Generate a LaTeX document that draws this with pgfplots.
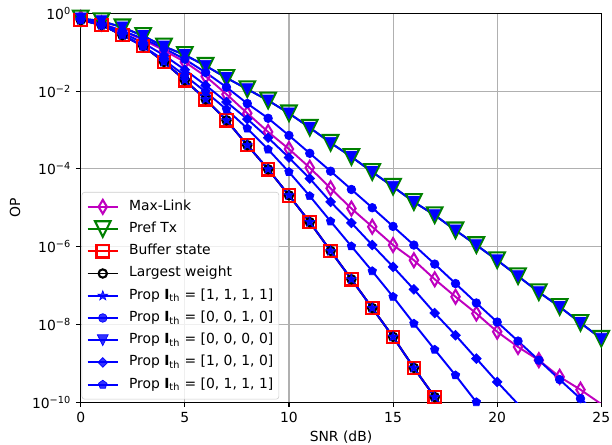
\documentclass[border=0pt]{standalone}
\usepackage{fontspec}
\setmainfont{DejaVu Sans}
\usepackage{pgfplots}
\pgfplotsset{compat=1.18}
\definecolor{mlmag}{RGB}{191,0,191}
\definecolor{mlgreen}{RGB}{0,128,0}
\definecolor{gridgray}{RGB}{176,176,176}
\definecolor{legedge}{RGB}{204,204,204}
% open down triangle (matplotlib 'v')
\pgfdeclareplotmark{tdown}{%
  \pgfpathmoveto{\pgfqpoint{-\pgfplotmarksize}{\pgfplotmarksize}}%
  \pgfpathlineto{\pgfqpoint{\pgfplotmarksize}{\pgfplotmarksize}}%
  \pgfpathlineto{\pgfqpoint{0pt}{-\pgfplotmarksize}}%
  \pgfpathclose\pgfusepathqstroke}
\pgfdeclareplotmark{tdown*}{%
  \pgfpathmoveto{\pgfqpoint{-\pgfplotmarksize}{\pgfplotmarksize}}%
  \pgfpathlineto{\pgfqpoint{\pgfplotmarksize}{\pgfplotmarksize}}%
  \pgfpathlineto{\pgfqpoint{0pt}{-\pgfplotmarksize}}%
  \pgfpathclose\pgfusepathqfillstroke}
% thin diamond (matplotlib 'd')
\pgfdeclareplotmark{tdia}{%
  \pgfpathmoveto{\pgfqpoint{0pt}{\pgfplotmarksize}}%
  \pgfpathlineto{\pgfqpoint{.6\pgfplotmarksize}{0pt}}%
  \pgfpathlineto{\pgfqpoint{0pt}{-\pgfplotmarksize}}%
  \pgfpathlineto{\pgfqpoint{-.6\pgfplotmarksize}{0pt}}%
  \pgfpathclose\pgfusepathqstroke}
% square diamond (matplotlib 'D')
\pgfdeclareplotmark{sdia*}{%
  \pgfpathmoveto{\pgfqpoint{0pt}{\pgfplotmarksize}}%
  \pgfpathlineto{\pgfqpoint{\pgfplotmarksize}{0pt}}%
  \pgfpathlineto{\pgfqpoint{0pt}{-\pgfplotmarksize}}%
  \pgfpathlineto{\pgfqpoint{-\pgfplotmarksize}{0pt}}%
  \pgfpathclose\pgfusepathqfillstroke}
% filled 5-pointed star (matplotlib '*')
\pgfdeclareplotmark{fstar}{%
  \pgfpathmoveto{\pgfqpointpolar{90}{\pgfplotmarksize}}%
  \pgfpathlineto{\pgfqpointpolar{126}{.4\pgfplotmarksize}}%
  \pgfpathlineto{\pgfqpointpolar{162}{\pgfplotmarksize}}%
  \pgfpathlineto{\pgfqpointpolar{198}{.4\pgfplotmarksize}}%
  \pgfpathlineto{\pgfqpointpolar{234}{\pgfplotmarksize}}%
  \pgfpathlineto{\pgfqpointpolar{270}{.4\pgfplotmarksize}}%
  \pgfpathlineto{\pgfqpointpolar{306}{\pgfplotmarksize}}%
  \pgfpathlineto{\pgfqpointpolar{342}{.4\pgfplotmarksize}}%
  \pgfpathlineto{\pgfqpointpolar{18}{\pgfplotmarksize}}%
  \pgfpathlineto{\pgfqpointpolar{54}{.4\pgfplotmarksize}}%
  \pgfpathclose\pgfusepathqfillstroke}
\begin{document}
\begin{tikzpicture}
\begin{axis}[
  scale only axis, width=374.8pt, height=279.9pt,
  xmin=0, xmax=25, ymin=1e-10, ymax=1, ymode=log,
  xtick={0,5,10,15,20,25}, xticklabels={0,5,10,15,20,25},
  ytick={1e-10,1e-8,1e-6,1e-4,1e-2,1},
  yticklabels={10\textsuperscript{−10},10\textsuperscript{−8},10\textsuperscript{−6},10\textsuperscript{−4},10\textsuperscript{−2},10\textsuperscript{0}},
  yminorticks=false,
  grid=major, major grid style={gridgray, line width=0.8pt},
  tick align=outside, tick pos=left, major tick length=3.5pt,
  tick style={black, line width=0.8pt},
  axis line style={line width=0.8pt},
  xlabel={SNR (dB)}, ylabel={OP},
  x label style={at={(axis description cs:0.5,-0.09)}, anchor=center},
  y label style={at={(axis description cs:-0.126,0.5)}, anchor=center},
  legend cell align=left,
  legend image code/.code={%
    \begin{pgfinterruptboundingbox}%
    \draw[mark repeat=2,mark phase=2] plot coordinates {(0pt,0pt) (11pt,0pt) (22pt,0pt)};%
    \end{pgfinterruptboundingbox}%
    \path[draw=none,fill=none] (0pt,-5pt) rectangle (22pt,5pt);},
  legend style={at={(axis description cs:0,0)}, anchor=south west,
    xshift=0.7pt, yshift=1.9pt, draw=legedge, fill=white, fill opacity=0.8,
    text opacity=1, rounded corners=2pt, inner xsep=4pt, inner ysep=5.5pt,
    row sep=6pt, nodes={inner sep=0pt, text height=7.5pt, text depth=2.5pt},
    /tikz/every odd column/.append style={column sep=7.9pt}},
]
\coordinate (ll) at (rel axis cs:0,0);
\coordinate (ur) at (rel axis cs:1,1);

% Max-Link
\addplot[mlmag, line width=1.4pt, mark=tdia, mark size=5pt, mark options={solid, line width=1.5pt}] coordinates {
(0,0.759)(1,0.550)(2,0.355)(3,0.209)(4,0.112)(5,5.62e-2)(6,2.40e-2)(7,8.32e-3)(8,2.69e-3)(9,8.91e-4)(10,3.24e-4)(11,1.07e-4)(12,3.16e-5)(13,9.55e-6)(14,3.24e-6)(15,1.096e-6)(16,4.47e-7)(17,1.445e-7)(18,5.13e-8)(19,1.905e-8)(20,6.46e-9)(21,2.63e-9)(22,1.20e-9)(23,4.47e-10)(24,2.09e-10)(25,8.9e-11)};
\addlegendentry{Max-Link}

% Pref Tx
\addplot[mlgreen, line width=1.4pt, mark=tdown, mark size=5.6pt, mark options={solid, line width=1.5pt}] coordinates {
(0,0.741)(1,0.631)(2,0.437)(3,0.263)(4,0.141)(5,8.51e-2)(6,4.47e-2)(7,2.19e-2)(8,1.122e-2)(9,5.75e-3)(10,2.69e-3)(11,1.148e-3)(12,4.68e-4)(13,2.04e-4)(14,8.32e-5)(15,3.47e-5)(16,1.41e-5)(17,6.46e-6)(18,2.63e-6)(19,1.096e-6)(20,4.47e-7)(21,1.74e-7)(22,6.76e-8)(23,2.82e-8)(24,1.096e-8)(25,4.27e-9)};
\addlegendentry{Pref Tx}

% Buffer state
\addplot[red, line width=1.4pt, mark=square, mark size=4.5pt, mark options={solid, line width=1.5pt}] coordinates {
(0,0.676)(1,0.501)(2,0.275)(3,0.1445)(4,5.62e-2)(5,1.905e-2)(6,6.17e-3)(7,1.778e-3)(8,4.07e-4)(9,9.77e-5)(10,2.09e-5)(11,4.27e-6)(12,7.76e-7)(13,1.445e-7)(14,2.63e-8)(15,4.79e-9)(16,7.59e-10)(17,1.35e-10)(18,2.5e-11)};
\addlegendentry{Buffer state}

% Largest weight
\addplot[black, line width=1.4pt, mark=o, mark size=3pt, mark options={solid, line width=1.5pt}] coordinates {
(0,0.676)(1,0.501)(2,0.275)(3,0.1445)(4,5.62e-2)(5,1.905e-2)(6,6.17e-3)(7,1.778e-3)(8,4.07e-4)(9,9.77e-5)(10,2.09e-5)(11,4.27e-6)(12,7.76e-7)(13,1.445e-7)(14,2.63e-8)(15,4.79e-9)(16,7.59e-10)(17,1.35e-10)(18,2.5e-11)};
\addlegendentry{Largest weight}

% Prop [1,1,1,1]
\addplot[blue, line width=1.4pt, mark=fstar, mark size=3.6pt, mark options={solid, fill=blue, line width=0.5pt}] coordinates {
(0,0.676)(1,0.501)(2,0.275)(3,0.1445)(4,5.62e-2)(5,1.905e-2)(6,6.17e-3)(7,1.778e-3)(8,4.07e-4)(9,9.77e-5)(10,2.09e-5)(11,4.27e-6)(12,7.76e-7)(13,1.445e-7)(14,2.63e-8)(15,4.79e-9)(16,7.59e-10)(17,1.35e-10)(18,2.5e-11)};
\addlegendentry{Prop \textbf{I}\textsubscript{th} = [1, 1, 1, 1]}

% Prop [0,0,1,0]
\addplot[blue, line width=1.4pt, mark=*, mark size=3.1pt, mark options={solid, fill=blue, line width=0.5pt}] coordinates {
(0,0.708)(1,0.525)(2,0.355)(3,0.224)(4,0.126)(5,6.61e-2)(6,3.02e-2)(7,1.259e-2)(8,4.79e-3)(9,2.00e-3)(10,7.24e-4)(11,2.51e-4)(12,8.71e-5)(13,2.95e-5)(14,1.0e-5)(15,3.31e-6)(16,1.096e-6)(17,3.55e-7)(18,1.122e-7)(19,3.55e-8)(20,1.148e-8)(21,3.72e-9)(22,1.20e-9)(23,3.80e-10)(24,1.23e-10)(25,4.0e-11)};
\addlegendentry{Prop \textbf{I}\textsubscript{th} = [0, 0, 1, 0]}

% Prop [0,0,0,0]
\addplot[blue, line width=1.4pt, mark=tdown*, mark size=3.9pt, mark options={solid, fill=blue, line width=0.5pt}] coordinates {
(0,0.741)(1,0.631)(2,0.437)(3,0.263)(4,0.141)(5,8.51e-2)(6,4.47e-2)(7,2.19e-2)(8,1.122e-2)(9,5.75e-3)(10,2.69e-3)(11,1.148e-3)(12,4.68e-4)(13,2.04e-4)(14,8.32e-5)(15,3.47e-5)(16,1.41e-5)(17,6.46e-6)(18,2.63e-6)(19,1.096e-6)(20,4.47e-7)(21,1.74e-7)(22,6.76e-8)(23,2.82e-8)(24,1.096e-8)(25,4.27e-9)};
\addlegendentry{Prop \textbf{I}\textsubscript{th} = [0, 0, 0, 0]}

% Prop [1,0,1,0]
\addplot[blue, line width=1.4pt, mark=sdia*, mark size=3.5pt, mark options={solid, fill=blue, line width=0.5pt}] coordinates {
(0,0.708)(1,0.501)(2,0.316)(3,0.174)(4,8.32e-2)(5,3.55e-2)(6,1.41e-2)(7,5.25e-3)(8,1.905e-3)(9,6.31e-4)(10,1.95e-4)(11,5.62e-5)(12,1.41e-5)(13,4.07e-6)(14,1.096e-6)(15,3.02e-7)(16,7.94e-8)(17,1.95e-8)(18,5.25e-9)(19,1.32e-9)(20,3.31e-10)(21,8.9e-11)};
\addlegendentry{Prop \textbf{I}\textsubscript{th} = [1, 0, 1, 0]}

% Prop [0,1,1,1]
\addplot[blue, line width=1.4pt, mark=pentagon*, mark size=3.2pt, mark options={solid, fill=blue, line width=0.5pt}] coordinates {
(0,0.708)(1,0.501)(2,0.282)(3,0.141)(4,6.31e-2)(5,2.51e-2)(6,9.55e-3)(7,3.39e-3)(8,1.096e-3)(9,3.16e-4)(10,8.32e-5)(11,2.0e-5)(12,4.47e-6)(13,1.02e-6)(14,2.34e-7)(15,5.13e-8)(16,1.047e-8)(17,2.24e-9)(18,4.90e-10)(19,1.0e-10)};
\addlegendentry{Prop \textbf{I}\textsubscript{th} = [0, 1, 1, 1]}
\end{axis}
\pgfresetboundingbox
\path[use as bounding box] ([shift={(-58.1pt,-30.2pt)}]ll) rectangle ([shift={(7.7pt,9.6pt)}]ur);
\end{tikzpicture}
\end{document}
